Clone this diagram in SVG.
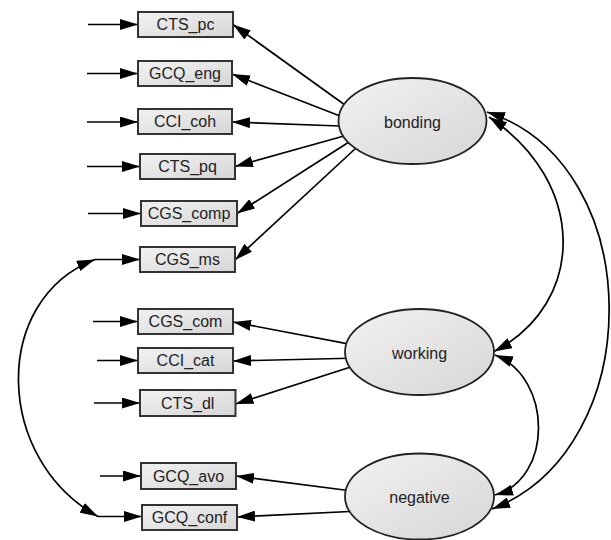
<svg xmlns="http://www.w3.org/2000/svg" width="611" height="540" viewBox="0 0 611 540">
<defs>
<linearGradient id="gf" x1="0" y1="0" x2="1" y2="1">
<stop offset="0" stop-color="#f2f2f2"/>
<stop offset="1" stop-color="#d6d6d6"/>
</linearGradient>
<marker id="ah" markerUnits="userSpaceOnUse" markerWidth="18" markerHeight="11" refX="18" refY="5.5" orient="auto-start-reverse" viewBox="0 0 18 11">
<path d="M0,0 L18,5.5 L0,11 z" fill="#000"/>
</marker>
<style>
.box{fill:url(#gf);stroke:#333;stroke-width:2}
.lat{fill:url(#gf);stroke:#222;stroke-width:1.8}
.t{font-family:"Liberation Sans",Arial,sans-serif;font-size:16px;fill:#222;text-anchor:middle;dominant-baseline:central}
.c{fill:none;stroke:#000;stroke-width:1.7;marker-end:url(#ah)}
.d{fill:none;stroke:#000;stroke-width:1.7;marker-end:url(#ah);marker-start:url(#ah)}
</style>
</defs>
<rect width="611" height="540" fill="#fff"/>
<g id="connectors">
<!-- error arrows -->
<line class="c" x1="88" y1="24.5" x2="138" y2="24.5"/>
<line class="c" x1="87" y1="73.5" x2="138" y2="73.5"/>
<line class="c" x1="87" y1="122" x2="138" y2="122"/>
<line class="c" x1="87" y1="166.5" x2="140" y2="166.5"/>
<line class="c" x1="88" y1="213.5" x2="141" y2="213.5"/>
<line class="c" x1="95" y1="259.5" x2="140" y2="259.5"/>
<line class="c" x1="93" y1="321.5" x2="138" y2="321.5"/>
<line class="c" x1="97" y1="360.5" x2="138" y2="360.5"/>
<line class="c" x1="94" y1="403" x2="140" y2="403"/>
<line class="c" x1="100" y1="476" x2="141" y2="476"/>
<line class="c" x1="98" y1="516.5" x2="142" y2="516.5"/>
<!-- bonding loadings -->
<line class="c" x1="345" y1="105" x2="233" y2="24.5"/>
<line class="c" x1="340" y1="116" x2="232" y2="74"/>
<line class="c" x1="340" y1="126" x2="232" y2="122"/>
<line class="c" x1="344" y1="136" x2="235" y2="166.5"/>
<line class="c" x1="349" y1="142" x2="237" y2="213.5"/>
<line class="c" x1="356" y1="148" x2="235" y2="260"/>
<!-- working loadings -->
<line class="c" x1="360" y1="346.2" x2="233" y2="322"/>
<line class="c" x1="360" y1="358" x2="233" y2="361"/>
<line class="c" x1="360" y1="364" x2="235.5" y2="404"/>
<!-- negative loadings -->
<line class="c" x1="360" y1="492" x2="236" y2="476"/>
<line class="c" x1="360" y1="511" x2="237" y2="517"/>
<!-- covariances -->
<path class="d" d="M95,259.5 C-10,300 -5,460 98,516.5"/>
<path class="d" d="M489,117 C587,182 587,303 494,351.5"/>
<path class="d" d="M487,112 C649,164 649,449 492,509"/>
<path class="d" d="M495,355 C553,378 553,479 495,495"/>
</g>
<g id="CTS_pc"><rect class="box" x="138" y="12" width="95" height="25"/><text class="t" x="185.5" y="24.5">CTS_pc</text></g>
<g id="GCQ_eng"><rect class="box" x="138" y="61" width="94" height="25"/><text class="t" x="185" y="73.5">GCQ_eng</text></g>
<g id="CCI_coh"><rect class="box" x="138" y="109" width="94" height="25"/><text class="t" x="185" y="121.5">CCI_coh</text></g>
<g id="CTS_pq"><rect class="box" x="140" y="154" width="95" height="25"/><text class="t" x="187.5" y="166.5">CTS_pq</text></g>
<g id="CGS_comp"><rect class="box" x="141" y="201" width="96" height="25"/><text class="t" x="189" y="213.5">CGS_comp</text></g>
<g id="CGS_ms"><rect class="box" x="140" y="247" width="95" height="25"/><text class="t" x="187.5" y="259.5">CGS_ms</text></g>
<g id="CGS_com"><rect class="box" x="138" y="309" width="95" height="25"/><text class="t" x="185.5" y="321.5">CGS_com</text></g>
<g id="CCI_cat"><rect class="box" x="138" y="348" width="95" height="25"/><text class="t" x="185.5" y="360.5">CCI_cat</text></g>
<g id="CTS_dl"><rect class="box" x="140" y="390" width="95.5" height="26"/><text class="t" x="187.75" y="403">CTS_dl</text></g>
<g id="GCQ_avo"><rect class="box" x="141" y="463" width="95" height="26"/><text class="t" x="188.5" y="476">GCQ_avo</text></g>
<g id="GCQ_conf"><rect class="box" x="142" y="505" width="95" height="25"/><text class="t" x="189.5" y="517.5">GCQ_conf</text></g>
<g id="bonding"><ellipse class="lat" cx="412.5" cy="121" rx="74" ry="43"/><text class="t" x="412.5" y="122">bonding</text></g>
<g id="working"><ellipse class="lat" cx="419.5" cy="352" rx="74.5" ry="43"/><text class="t" x="419.5" y="353">working</text></g>
<g id="negative"><ellipse class="lat" cx="419.5" cy="496.5" rx="74.5" ry="43"/><text class="t" x="419.5" y="497.5">negative</text></g>
</svg>
